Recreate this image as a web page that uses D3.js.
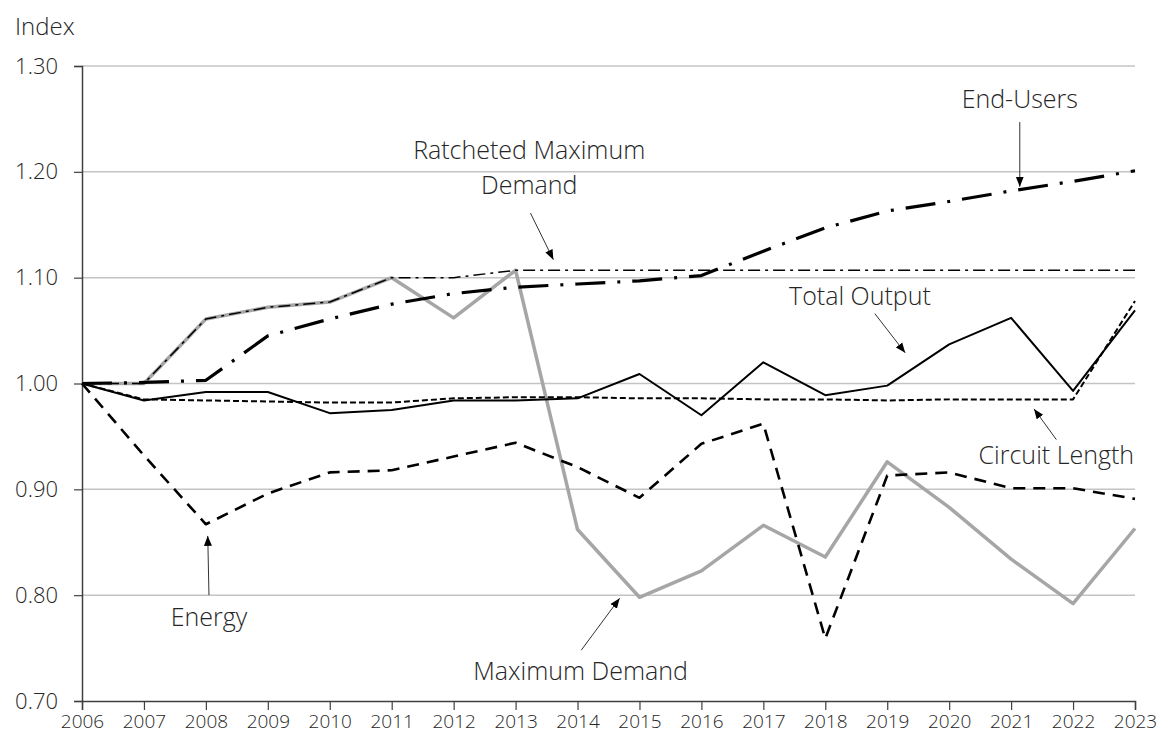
<!DOCTYPE html>
<html>
<head>
<meta charset="utf-8">
<script src="https://cdn.jsdelivr.net/npm/d3@7"></script>
<style>
  body { margin: 0; background: #fff; }
  svg text { font-family: "Open Sans", "Noto Sans", sans-serif; font-weight: 300; fill: #262626; }
</style>
</head>
<body>
<div id="chart"></div>
<script>
var width = 1158;
var height = 740;
var margin = {top: 66, right: 23, bottom: 39, left: 82};

// data
var years = [2006, 2007, 2008, 2009, 2010, 2011, 2012, 2013, 2014, 2015, 2016, 2017, 2018, 2019, 2020, 2021, 2022, 2023];
var yTicks = [0.70, 0.80, 0.90, 1.00, 1.10, 1.20, 1.30];

var maxDemand     = [1.000, 1.000, 1.061, 1.072, 1.077, 1.100, 1.062, 1.107, 0.862, 0.798, 0.823, 0.866, 0.836, 0.926, 0.883, 0.834, 0.792, 0.863];
var ratcheted     = [1.000, 1.000, 1.061, 1.072, 1.077, 1.100, 1.100, 1.107, 1.107, 1.107, 1.107, 1.107, 1.107, 1.107, 1.107, 1.107, 1.107, 1.107];
var endUsers      = [1.000, 1.001, 1.003, 1.045, 1.061, 1.075, 1.085, 1.091, 1.094, 1.097, 1.102, 1.125, 1.147, 1.163, 1.172, 1.182, 1.191, 1.201];
var totalOutput   = [1.000, 0.984, 0.992, 0.992, 0.972, 0.975, 0.984, 0.984, 0.986, 1.009, 0.970, 1.020, 0.989, 0.998, 1.037, 1.062, 0.993, 1.069];
var circuitLength = [1.000, 0.985, 0.984, 0.983, 0.982, 0.982, 0.986, 0.987, 0.987, 0.986, 0.986, 0.985, 0.985, 0.984, 0.985, 0.985, 0.985, 1.078];
var energy        = [1.000, 0.932, 0.867, 0.896, 0.916, 0.918, 0.931, 0.944, 0.921, 0.892, 0.943, 0.962, 0.759, 0.913, 0.916, 0.901, 0.901, 0.891];

// drawing order: grey line underneath
var series = [
  {name: "Maximum Demand", values: maxDemand, color: "#a6a6a6", width: 3.5, dash: null},
  {name: "Ratcheted Maximum Demand", values: ratcheted, color: "#000", width: 1.5, dash: "12 5 3 5"},
  {name: "End-Users", values: endUsers, color: "#000", width: 3.2, dash: "30 12 3 12"},
  {name: "Total Output", values: totalOutput, color: "#000", width: 2, dash: null},
  {name: "Circuit Length", values: circuitLength, color: "#000", width: 2, dash: "6 3"},
  {name: "Energy", values: energy, color: "#000", width: 2.6, dash: "12 8"}
];

// labels + arrows, placed in data units (year, index)
var notes = [
  {lines: ["End-Users"], x: 2021.14, y: 1.260, from: [2021.14, 1.247], to: [2021.14, 1.186]},
  {lines: ["Ratcheted Maximum", "Demand"], x: 2013.22, y: 1.212, from: [2013.24, 1.161], to: [2013.61, 1.117]},
  {lines: ["Total Output"], x: 2018.56, y: 1.074, from: [2018.80, 1.066], to: [2019.29, 1.029]},
  {lines: ["Circuit Length"], x: 2021.73, y: 0.924, from: [2021.73, 0.947], to: [2021.37, 0.976]},
  {lines: ["Energy"], x: 2008.05, y: 0.771, from: [2008.05, 0.800], to: [2008.03, 0.856]},
  {lines: ["Maximum Demand"], x: 2014.05, y: 0.720, from: [2014.06, 0.748], to: [2014.68, 0.797]}
];

var svg = d3.select("#chart")
            .append("svg")
            .attr("width", width)
            .attr("height", height);

svg.append("defs")
    .append("marker")
    .attr("id", "arrow")
    .attr("viewBox", "0 0 10 10")
    .attr("refX", 10)
    .attr("refY", 5)
    .attr("markerUnits", "userSpaceOnUse")
    .attr("markerWidth", 10)
    .attr("markerHeight", 10)
    .attr("orient", "auto")
    .append("path")
    .attr("d", "M0,1 L10,5 L0,9 Z")
    .attr("fill", "#000");

var x = d3.scaleLinear()
          .domain([2006, 2023])
          .range([margin.left, width - margin.right]);

var y = d3.scaleLinear()
          .domain([0.70, 1.30])
          .range([height - margin.bottom, margin.top]);

// gridlines
svg.append("g")
    .attr("class", "grid")
    .selectAll("line")
    .data(yTicks.filter(function(d) { return d > 0.70; }))
    .enter()
    .append("line")
    .attr("x1", x(2006))
    .attr("x2", x(2023))
    .attr("y1", function(d) { return y(d); })
    .attr("y2", function(d) { return y(d); })
    .attr("stroke", "#c4c4c4")
    .attr("stroke-width", 1.5);

// axes
var yAxis = svg.append("g")
    .attr("transform", "translate(" + margin.left + ",0)")
    .call(d3.axisLeft(y).tickValues(yTicks).tickFormat(d3.format(".2f")).tickSize(8).tickPadding(16));

var xAxis = svg.append("g")
    .attr("transform", "translate(0," + (height - margin.bottom) + ")")
    .call(d3.axisBottom(x).tickValues(years).tickFormat(d3.format("d")).tickSize(9).tickPadding(5));

yAxis.select(".domain").attr("stroke", "#404040").attr("stroke-width", 1.5);
xAxis.select(".domain").attr("stroke", "#404040").attr("stroke-width", 1.5);
yAxis.selectAll(".tick line").attr("stroke", "#404040").attr("stroke-width", 1.2);
xAxis.selectAll(".tick line").attr("stroke", "#404040").attr("stroke-width", 1.2);
yAxis.selectAll(".tick text").style("font-size", "22px").attr("fill", "#262626");
xAxis.selectAll(".tick text").style("font-size", "19px").attr("fill", "#262626");

svg.append("text")
    .attr("x", 15)
    .attr("y", 35)
    .style("font-size", "24px")
    .text("Index");

// series lines
var line = d3.line()
    .x(function(d, i) { return x(years[i]); })
    .y(function(d) { return y(d); });

svg.append("g")
    .attr("class", "series")
    .selectAll("path")
    .data(series)
    .enter()
    .append("path")
    .attr("d", function(d) { return line(d.values); })
    .attr("fill", "none")
    .attr("stroke", function(d) { return d.color; })
    .attr("stroke-width", function(d) { return d.width; })
    .attr("stroke-dasharray", function(d) { return d.dash; })
    .attr("stroke-linejoin", "round");

// annotations
var note = svg.append("g")
    .attr("class", "notes")
    .selectAll("g")
    .data(notes)
    .enter()
    .append("g");

note.append("line")
    .attr("x1", function(d) { return x(d.from[0]); })
    .attr("y1", function(d) { return y(d.from[1]); })
    .attr("x2", function(d) { return x(d.to[0]); })
    .attr("y2", function(d) { return y(d.to[1]); })
    .attr("stroke", "#333")
    .attr("stroke-width", 1)
    .attr("marker-end", "url(#arrow)");

note.append("text")
    .attr("text-anchor", "middle")
    .attr("x", function(d) { return x(d.x); })
    .attr("y", function(d) { return y(d.y); })
    .style("font-size", "25px")
    .selectAll("tspan")
    .data(function(d) { return d.lines.map(function(l) { return {text: l, x: x(d.x)}; }); })
    .enter()
    .append("tspan")
    .attr("x", function(t) { return t.x; })
    .attr("dy", function(t, i) { return i === 0 ? 0 : 35; })
    .text(function(t) { return t.text; });
</script>
</body>
</html>
